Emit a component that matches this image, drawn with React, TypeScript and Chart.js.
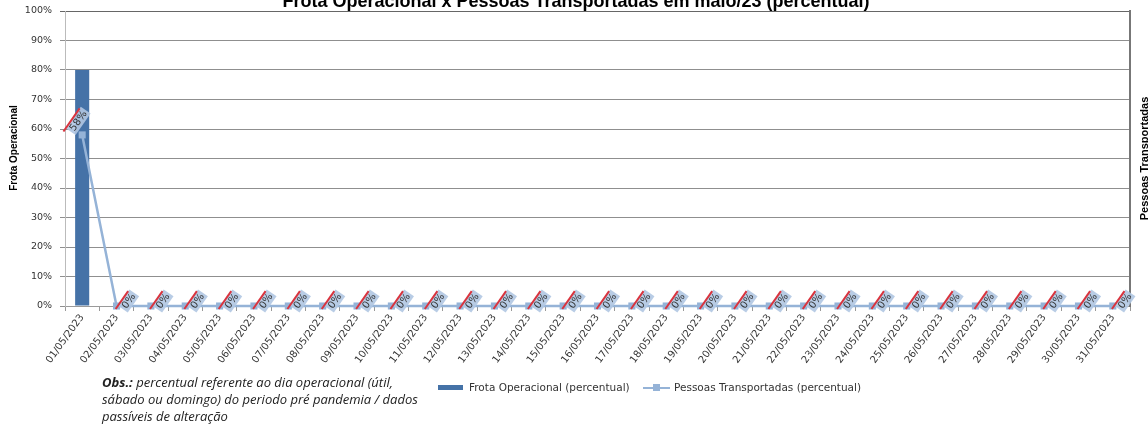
import React, { useEffect, useRef } from "react";
import { Chart, registerables } from "chart.js";

Chart.register(...registerables);

const categories = [
  "01/05/2023", "02/05/2023", "03/05/2023", "04/05/2023", "05/05/2023", "06/05/2023",
  "07/05/2023", "08/05/2023", "09/05/2023", "10/05/2023", "11/05/2023", "12/05/2023",
  "13/05/2023", "14/05/2023", "15/05/2023", "16/05/2023", "17/05/2023", "18/05/2023",
  "19/05/2023", "20/05/2023", "21/05/2023", "22/05/2023", "23/05/2023", "24/05/2023",
  "25/05/2023", "26/05/2023", "27/05/2023", "28/05/2023", "29/05/2023", "30/05/2023",
  "31/05/2023",
];

const frotaValues = [
  80, 0, 0, 0, 0, 0, 0, 0, 0, 0, 0, 0, 0, 0, 0, 0, 0, 0, 0, 0, 0, 0, 0, 0, 0, 0, 0, 0, 0, 0, 0,
];

const pessoasValues = [
  58, 0, 0, 0, 0, 0, 0, 0, 0, 0, 0, 0, 0, 0, 0, 0, 0, 0, 0, 0, 0, 0, 0, 0, 0, 0, 0, 0, 0, 0, 0,
];

const yTickValues = [0, 10, 20, 30, 40, 50, 60, 70, 80, 90, 100];

const TITLE = "Frota Operacional x Pessoas Transportadas em maio/23 (percentual)";
const LEFT_TITLE = "Frota Operacional";
const RIGHT_TITLE = "Pessoas Transportadas";
const LEGEND_BAR = "Frota Operacional (percentual)";
const LEGEND_LINE = "Pessoas Transportadas (percentual)";

const BAR_COLOR = "#4572A7";
const LINE_COLOR = "#95B3D7";

const decorPlugin = {
  id: "decor",
  afterDraw(chart: any) {
    const ctx = chart.ctx;
    const area = chart.chartArea;
    ctx.save();
    // title
    ctx.font = 'bold 18px "Liberation Sans", Arial, sans-serif';
    ctx.fillStyle = "#000";
    ctx.textAlign = "center";
    ctx.textBaseline = "alphabetic";
    ctx.fillText(TITLE, 576, 7);
    // left axis title
    ctx.save();
    ctx.translate(14, 148);
    ctx.rotate(-Math.PI / 2);
    ctx.font = 'bold 10px "Liberation Sans", Arial, sans-serif';
    ctx.textBaseline = "middle";
    ctx.fillText(LEFT_TITLE, 0, 0);
    ctx.restore();
    // right axis title
    ctx.save();
    ctx.translate(1145, (area.top + area.bottom) / 2);
    ctx.rotate(-Math.PI / 2);
    ctx.font = 'bold 11px "Liberation Sans", Arial, sans-serif';
    ctx.textBaseline = "middle";
    ctx.fillText(RIGHT_TITLE, 0, 0);
    ctx.restore();
    ctx.restore();
  },
  afterDatasetsDraw(chart: any) {
    const ctx = chart.ctx;
    const meta = chart.getDatasetMeta(1);
    meta.data.forEach((pt: any, i: number) => {
      const text = pessoasValues[i] + "%";
      ctx.save();
      ctx.font = '10px "DejaVu Sans", Verdana, sans-serif';
      const w = ctx.measureText(text).width + 4;
      const h = 12;
      const dx = i === 0 ? -4 : 12;
      const dy = i === 0 ? -14 : -5;
      ctx.translate(pt.x + dx, pt.y + dy);
      ctx.rotate((-55 * Math.PI) / 180);
      ctx.fillStyle = "rgba(176,198,226,0.9)";
      ctx.fillRect(-w / 2, -h / 2, w, h);
      ctx.strokeStyle = "#D9343E";
      ctx.lineWidth = 2;
      ctx.beginPath();
      ctx.moveTo(-w / 2 - 4, -h / 2);
      ctx.lineTo(w / 2 - 2, -h / 2);
      ctx.stroke();
      ctx.fillStyle = "#333";
      ctx.textAlign = "center";
      ctx.textBaseline = "middle";
      ctx.fillText(text, 0, 0.5);
      ctx.restore();
    });
  },
};

export default function App() {
  const ref = useRef<HTMLCanvasElement | null>(null);

  useEffect(() => {
    if (!ref.current) return;
    const yFont = { family: '"DejaVu Sans", Verdana, sans-serif', size: 9.5 };
    const xFont = { family: '"DejaVu Sans", Verdana, sans-serif', size: 10 };
    const chart = new Chart(ref.current, {
      type: "bar",
      data: {
        labels: categories,
        datasets: [
          {
            type: "bar",
            label: LEGEND_BAR,
            data: frotaValues,
            backgroundColor: BAR_COLOR,
            borderWidth: 0,
            barPercentage: 0.41,
            categoryPercentage: 1,
            yAxisID: "y",
            order: 2,
          },
          {
            type: "line",
            label: LEGEND_LINE,
            data: pessoasValues,
            borderColor: LINE_COLOR,
            backgroundColor: LINE_COLOR,
            borderWidth: 2.5,
            pointStyle: "rect",
            pointRadius: 5,
            pointBackgroundColor: LINE_COLOR,
            pointBorderWidth: 0,
            tension: 0,
            clip: false as any,
            yAxisID: "y1",
            order: 1,
          } as any,
        ],
      },
      options: {
        responsive: false,
        animation: false,
        devicePixelRatio: 1,
        layout: { padding: { top: 11, left: 0, right: 0, bottom: 0 } },
        plugins: {
          legend: { display: false },
          title: { display: false },
          tooltip: { enabled: false },
        },
        scales: {
          x: {
            type: "category",
            offset: true,
            grid: {
              offset: true,
              drawOnChartArea: false,
              drawTicks: true,
              tickLength: 5,
              color: "#999",
            },
            border: { color: "#9a9a9a" },
            ticks: {
              autoSkip: false,
              minRotation: 54,
              maxRotation: 54,
              font: xFont,
              color: "#333",
              padding: 1,
            },
            afterFit(scale: any) {
              scale.height = 118;
            },
          },
          y: {
            position: "left",
            min: 0,
            max: 100,
            afterBuildTicks(scale: any) {
              scale.ticks = yTickValues.map((v) => ({ value: v }));
            },
            ticks: {
              font: yFont,
              color: "#333",
              padding: 8,
              callback: (v: any) => v + "%",
            },
            grid: {
              color: (c: any) => (c.tick && c.tick.value === 100 ? "#666" : "#8f8f8f"),
              tickLength: 5,
            },
            border: { color: "#bbb" },
            afterFit(scale: any) {
              scale.width = 65;
              scale.paddingTop = 5;
              scale.paddingBottom = 5;
            },
          },
          y1: {
            position: "right",
            min: 0,
            max: 100,
            ticks: { display: false },
            grid: { drawOnChartArea: false, drawTicks: false },
            border: { color: "#777", width: 2 },
            afterFit(scale: any) {
              scale.width = 18;
            },
          },
        },
      } as any,
      plugins: [decorPlugin],
    });
    return () => chart.destroy();
  }, []);

  const legendText: React.CSSProperties = {
    position: "absolute",
    top: 379,
    font: '10.5px "DejaVu Sans", Verdana, sans-serif',
    color: "#333",
    lineHeight: "16px",
    whiteSpace: "nowrap",
  };

  return (
    <div style={{ position: "absolute", left: 0, top: 0, width: 1148, height: 424, background: "#fff" }}>
      <canvas ref={ref} width={1148} height={424} style={{ display: "block", width: 1148, height: 424 }} />
      <div
        style={{
          position: "absolute",
          left: 102,
          top: 374,
          font: 'italic 13px "Open Sans", sans-serif',
          lineHeight: "17px",
          color: "#222",
          whiteSpace: "nowrap",
        }}
      >
        <b>Obs.:</b> percentual referente ao dia operacional (útil,
        <br />
        sábado ou domingo) do periodo pré pandemia / dados
        <br />
        passíveis de alteração
      </div>
      <div style={{ position: "absolute", left: 438, top: 385, width: 25, height: 5, background: BAR_COLOR }} />
      <div style={{ ...legendText, left: 469 }}>{LEGEND_BAR}</div>
      <div style={{ position: "absolute", left: 643, top: 386.5, width: 27, height: 2, background: LINE_COLOR }} />
      <div style={{ position: "absolute", left: 653, top: 384, width: 7, height: 7, background: LINE_COLOR }} />
      <div style={{ ...legendText, left: 674 }}>{LEGEND_LINE}</div>
    </div>
  );
}
